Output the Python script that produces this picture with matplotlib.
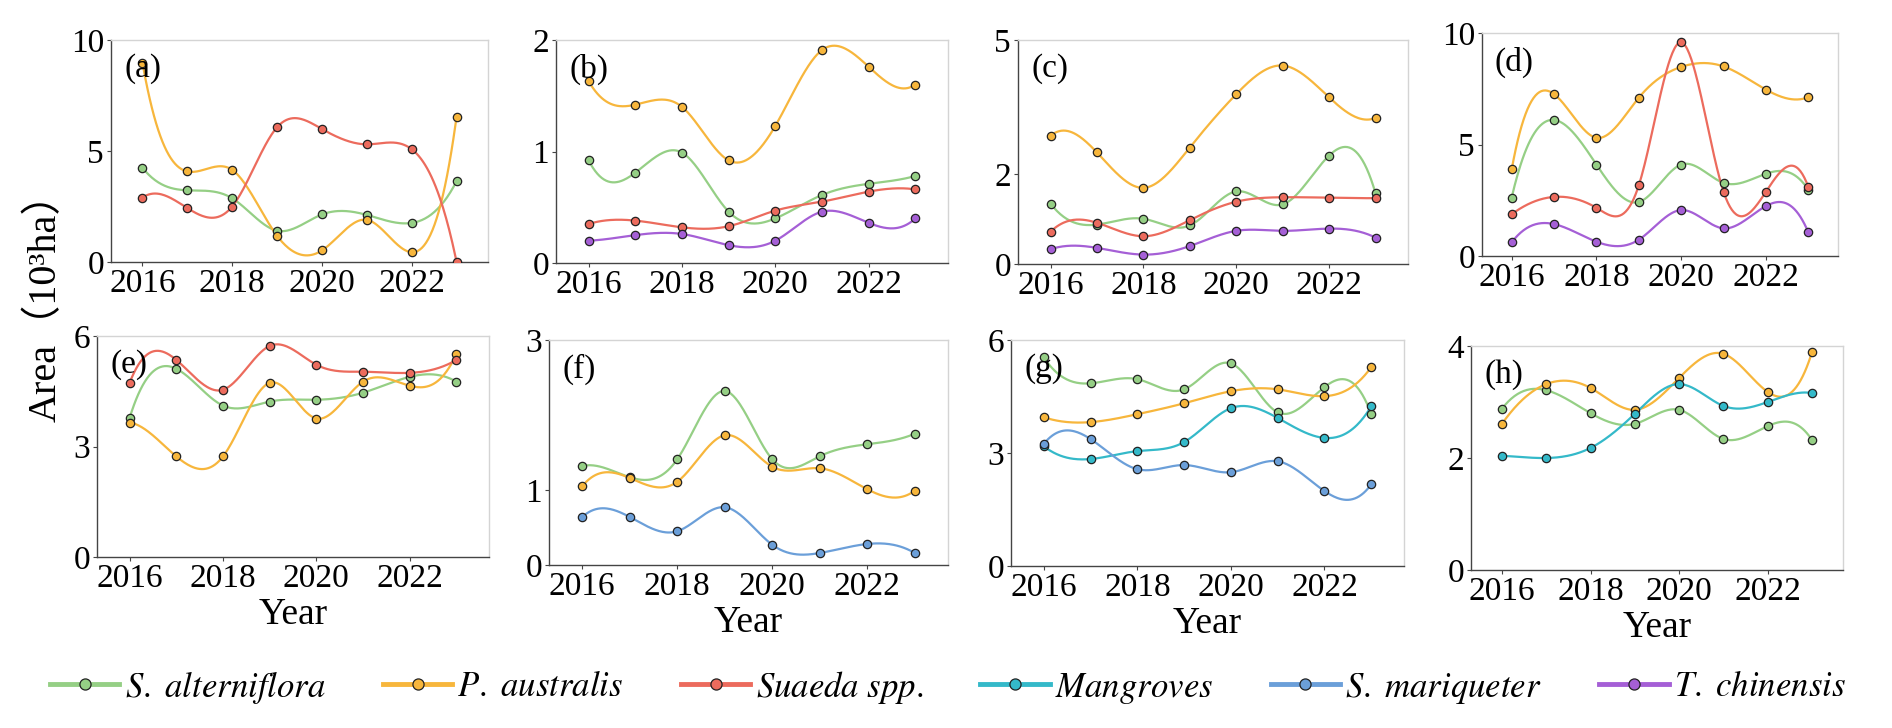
import numpy as np
import matplotlib.pyplot as plt
from matplotlib.lines import Line2D

plt.rcParams['font.family'] = ['Liberation Serif', 'Noto Sans CJK SC']
plt.rcParams['mathtext.fontset'] = 'stix'

years = [2016, 2017, 2018, 2019, 2020, 2021, 2022, 2023]

species = ["S. alterniflora", "P. australis", "Suaeda spp.",
           "Mangroves", "S. mariqueter", "T. chinensis"]
colors = ["#95cf85", "#f7b63c", "#ec6b5d", "#34b9c9", "#6b9fd9", "#a55fd6"]

# (a)
a_alt = [4.25, 3.23, 2.87, 1.41, 2.14, 2.12, 1.76, 3.64]
a_aus = [8.98, 4.08, 4.15, 1.18, 0.52, 1.90, 0.44, 6.55]
a_sua = [2.90, 2.43, 2.50, 6.07, 5.99, 5.30, 5.08, 0.0]
# (b)
b_alt = [0.92, 0.81, 0.99, 0.46, 0.40, 0.61, 0.71, 0.78]
b_aus = [1.63, 1.42, 1.40, 0.92, 1.23, 1.91, 1.76, 1.60]
b_sua = [0.35, 0.38, 0.32, 0.33, 0.47, 0.55, 0.64, 0.66]
b_chi = [0.20, 0.25, 0.26, 0.16, 0.20, 0.46, 0.36, 0.40]
# (c)
c_alt = [1.35, 0.88, 1.01, 0.86, 1.62, 1.33, 2.42, 1.58]
c_aus = [2.86, 2.49, 1.70, 2.60, 3.79, 4.43, 3.72, 3.26]
c_sua = [0.72, 0.92, 0.62, 0.98, 1.39, 1.49, 1.48, 1.47]
c_chi = [0.33, 0.36, 0.21, 0.40, 0.74, 0.74, 0.79, 0.59]
# (d)
d_alt = [2.62, 6.10, 4.10, 2.42, 4.10, 3.28, 3.69, 2.97]
d_aus = [3.88, 7.26, 5.30, 7.10, 8.48, 8.50, 7.46, 7.12]
d_sua = [1.87, 2.65, 2.16, 3.17, 9.58, 2.88, 2.88, 3.09]
d_chi = [0.61, 1.43, 0.64, 0.73, 2.06, 1.24, 2.24, 1.06]
# (e)
e_alt = [3.78, 5.11, 4.11, 4.22, 4.27, 4.46, 4.89, 4.76]
e_aus = [3.65, 2.73, 2.73, 4.73, 3.76, 4.76, 4.65, 5.51]
e_sua = [4.73, 5.35, 4.54, 5.73, 5.22, 5.03, 5.00, 5.35]
# (f)
f_alt = [1.32, 1.17, 1.41, 2.32, 1.41, 1.45, 1.61, 1.75]
f_aus = [1.05, 1.16, 1.11, 1.73, 1.31, 1.29, 1.01, 0.99]
f_mar = [0.64, 0.64, 0.45, 0.77, 0.27, 0.16, 0.28, 0.16]
# (g)
g_alt = [5.54, 4.85, 4.96, 4.69, 5.38, 4.08, 4.75, 4.03]
g_aus = [3.95, 3.82, 4.03, 4.32, 4.64, 4.69, 4.51, 5.28]
g_man = [3.18, 2.84, 3.05, 3.29, 4.19, 3.93, 3.40, 4.24]
g_mar = [3.24, 3.37, 2.57, 2.68, 2.49, 2.78, 1.99, 2.17]
# (h)
h_alt = [2.88, 3.21, 2.80, 2.61, 2.86, 2.34, 2.57, 2.32]
h_aus = [2.61, 3.32, 3.25, 2.86, 3.43, 3.86, 3.18, 3.89]
h_man = [2.04, 2.00, 2.18, 2.79, 3.32, 2.93, 3.00, 3.16]

panels = [
    ("(a)", [(0, a_alt), (1, a_aus), (2, a_sua)], 10, [0, 5, 10]),
    ("(b)", [(0, b_alt), (1, b_aus), (2, b_sua), (5, b_chi)], 2, [0, 1, 2]),
    ("(c)", [(0, c_alt), (1, c_aus), (2, c_sua), (5, c_chi)], 5, [0, 2, 5]),
    ("(d)", [(0, d_alt), (1, d_aus), (2, d_sua), (5, d_chi)], 10, [0, 5, 10]),
    ("(e)", [(0, e_alt), (1, e_aus), (2, e_sua)], 6, [0, 3, 6]),
    ("(f)", [(0, f_alt), (1, f_aus), (4, f_mar)], 3, [0, 1, 3]),
    ("(g)", [(0, g_alt), (1, g_aus), (3, g_man), (4, g_mar)], 6, [0, 3, 6]),
    ("(h)", [(0, h_alt), (1, h_aus), (3, h_man)], 4, [0, 2, 4]),
]

# axes boxes in pixels: left, right, top, bottom
boxes = [
    (111, 488, 40, 262), (556, 948, 40, 263), (1018, 1408, 40, 264), (1482, 1838, 33, 256),
    (97, 489, 336, 557), (549, 948, 340, 565), (1011, 1404, 340, 566), (1471, 1843, 346, 570),
]

W, H = 1892, 728


def spline(x, y, num=300):
    # cubic spline with not-a-knot ends
    x = np.asarray(x, float)
    y = np.asarray(y, float)
    n = len(x) - 1
    A = np.zeros((4 * n, 4 * n))
    rhs = np.zeros(4 * n)
    r = 0
    for i in range(n):
        h = x[i + 1] - x[i]
        A[r, 4 * i] = 1
        rhs[r] = y[i]
        r += 1
        A[r, 4 * i:4 * i + 4] = [1, h, h ** 2, h ** 3]
        rhs[r] = y[i + 1]
        r += 1
    for i in range(n - 1):
        h = x[i + 1] - x[i]
        A[r, 4 * i:4 * i + 4] = [0, 1, 2 * h, 3 * h ** 2]
        A[r, 4 * (i + 1) + 1] = -1
        r += 1
        A[r, 4 * i:4 * i + 4] = [0, 0, 2, 6 * h]
        A[r, 4 * (i + 1) + 2] = -2
        r += 1
    A[r, 3] = 1
    A[r, 7] = -1
    r += 1
    A[r, 4 * (n - 2) + 3] = 1
    A[r, 4 * (n - 1) + 3] = -1
    c = np.linalg.solve(A, rhs).reshape(n, 4)
    xs = np.linspace(x[0], x[-1], num)
    idx = np.clip(np.searchsorted(x, xs, side='right') - 1, 0, n - 1)
    t = xs - x[idx]
    ys = c[idx, 0] + c[idx, 1] * t + c[idx, 2] * t ** 2 + c[idx, 3] * t ** 3
    return xs, ys


fig = plt.figure(figsize=(W / 100, H / 100), dpi=100)

for k, (lab, series, ymax, yt) in enumerate(panels):
    l, r, t, b = boxes[k]
    ax = fig.add_axes([l / W, 1 - b / H, (r - l) / W, (b - t) / H])
    for ci, vals in series:
        xs, ys = spline(years, vals)
        ax.plot(xs, ys, color=colors[ci], lw=1.6, zorder=2)
        ax.plot(years, vals, 'o', ms=6, mfc=colors[ci], mec='#222222', mew=0.9, zorder=3)
    ax.set_xlim(2015.3, 2023.7)
    ax.set_ylim(0, ymax)
    ax.set_xticks([2016, 2018, 2020, 2022])
    ax.set_yticks(yt)
    ax.tick_params(labelsize=24, length=3, width=0.8, color='#444444', pad=2)
    for s in ['left', 'bottom']:
        ax.spines[s].set_color('#444444')
        ax.spines[s].set_linewidth(1.0)
    for s in ['top', 'right']:
        ax.spines[s].set_color('#d4d4d4')
        ax.spines[s].set_linewidth(1.0)
    ax.text(0.035, 0.94, lab, transform=ax.transAxes, fontsize=24, ha='left', va='top')
    if k >= 4:
        ax.set_xlabel("Year", fontsize=27, labelpad=2)

fig.text(46 / W, 1 - 298 / H, "Area（10³ha）", rotation=90, fontsize=29,
         ha='center', va='center')

# italic Times-like legend labels through mathtext (STIX)
leg_labels = [r"$\mathit{" + s.replace(" ", r"\ ") + "}$" for s in species]
handles = [Line2D([], [], color=c, lw=3.5, marker='o', ms=8, mfc=c, mec='#222222', mew=0.9)
           for c in colors]
leg = fig.legend(handles, leg_labels, loc='center', bbox_to_anchor=(0.501, 1 - 687 / H),
                 ncol=6, frameon=False, handlelength=2.0, handletextpad=0.15,
                 columnspacing=1.65, fontsize=25)

fig.savefig("out.png", dpi=100)
